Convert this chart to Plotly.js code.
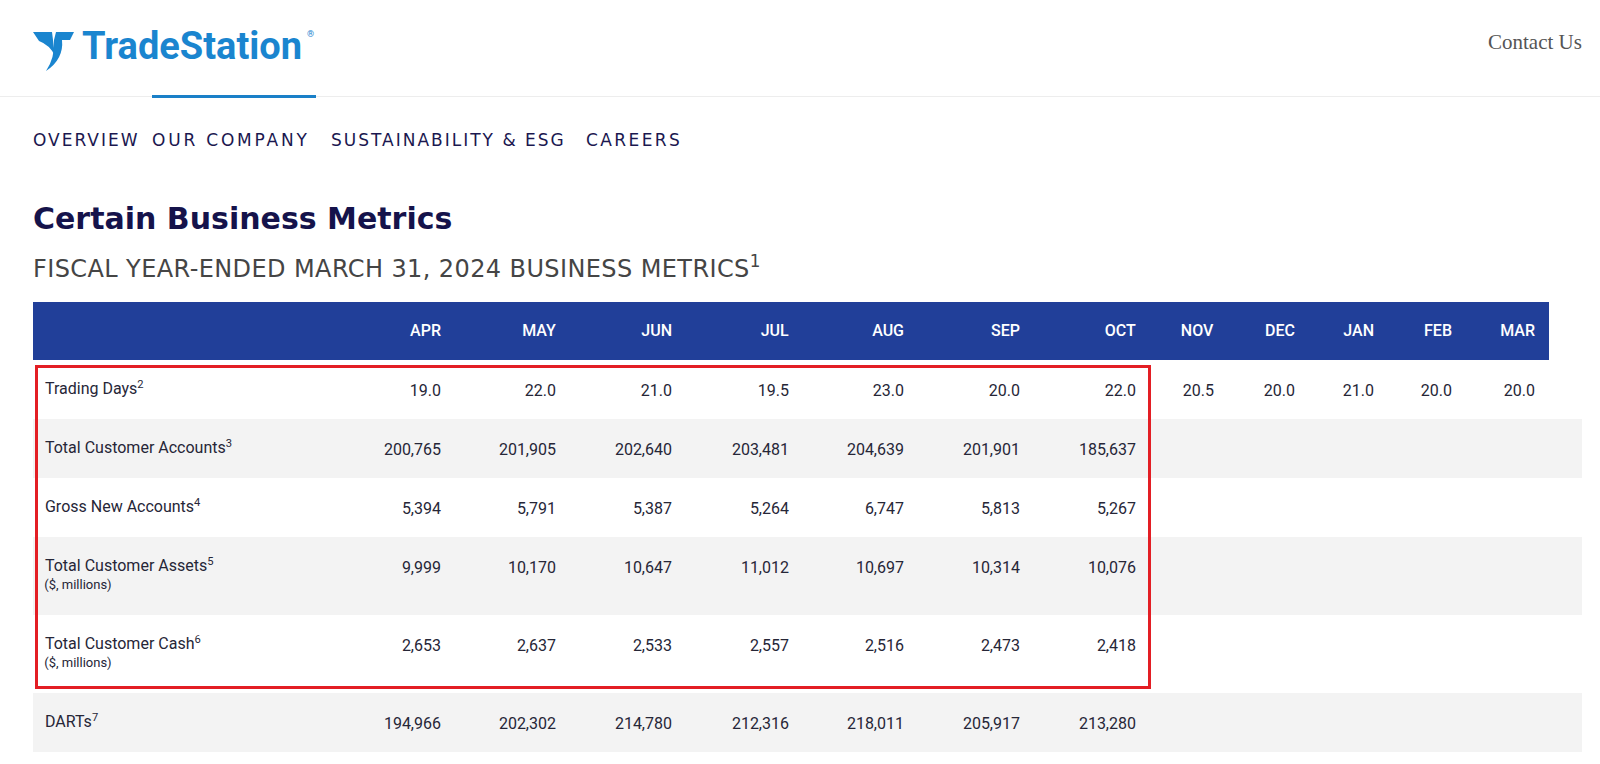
<!DOCTYPE html>
<html><head><meta charset="utf-8">
<script src="https://cdn.plot.ly/plotly-3.0.1.min.js"></script>
<style>html,body{margin:0;padding:0;background:#fff;}#chart{width:1600px;height:764px;}</style>
</head><body><div id="chart"></div>
<script>
// ---- data ----
const months = ['APR','MAY','JUN','JUL','AUG','SEP','OCT','NOV','DEC','JAN','FEB','MAR'];
const rowLabels = [
  'Trading Days<sup>2</sup>',
  'Total Customer Accounts<sup>3</sup>',
  'Gross New Accounts<sup>4</sup>',
  'Total Customer Assets<sup>5</sup>',
  'Total Customer Cash<sup>6</sup>',
  'DARTs<sup>7</sup>'
];
const rowSubLabels = ['', '', '', '($, millions)', '($, millions)', ''];
const tradingDays = [19.0, 22.0, 21.0, 19.5, 23.0, 20.0, 22.0, 20.5, 20.0, 21.0, 20.0, 20.0];
const totalCustomerAccounts = [200765, 201905, 202640, 203481, 204639, 201901, 185637];
const grossNewAccounts = [5394, 5791, 5387, 5264, 6747, 5813, 5267];
const totalCustomerAssets = [9999, 10170, 10647, 11012, 10697, 10314, 10076];
const totalCustomerCash = [2653, 2637, 2533, 2557, 2516, 2473, 2418];
const darts = [194966, 202302, 214780, 212316, 218011, 205917, 213280];

// ---- build table ----
const W = 1600, H = 764;
const px = x => x / W, py = y => 1 - y / H;
// the table places text at the top of each cell; a tiny base font gives fine line steps
// (1.3 * 2.692px = 3.5px) so that leading lines push the text down to mid-cell.
const BASE = 2.692;
const br = n => '<br>'.repeat(n);
const big = (s, size) => '<span style="font-size:' + (size || 16) + 'px">' + s + '</span>';
const anchor = '<span style="color:rgba(0,0,0,0)">.</span>';   // invisible top anchor
const numTxt = s => br(8) + big(s);
const headTxt = s => anchor + br(7) + big(s);
const fmtInt = v => (v === undefined ? '' : numTxt(v.toLocaleString('en-US')));
const fmtDays = v => (v === undefined ? '' : numTxt(v.toFixed(1)));
const series = [
  [tradingDays, fmtDays],
  [totalCustomerAccounts, fmtInt],
  [grossNewAccounts, fmtInt],
  [totalCustomerAssets, fmtInt],
  [totalCustomerCash, fmtInt],
  [darts, fmtInt]
];
const labelCol = rowLabels.map((l, i) => anchor + br(7) + big('&nbsp;' + l) + (rowSubLabels[i]
  ? br(5) + big('&nbsp;' + rowSubLabels[i], 13) + br(4) + big('&nbsp;') : ''));
const monthCols = months.map((m, j) => series.map(([arr, f]) => f(arr[j])));
const blankCol = series.map(() => '');
const values = [labelCol, ...monthCols, blankCol, blankCol];
const headerVals = ['', ...months.map(headTxt), '', ''];
const nCols = headerVals.length;
const rowFill = series.map((s, i) => (i % 2 === 0 ? '#ffffff' : '#f3f3f3'));
const headerFill = headerVals.map((h, j) => (j === nCols - 1 ? '#ffffff' : '#213f99'));

const table = {
  type: 'table',
  domain: {x: [px(33), px(1582)], y: [0, py(302)]},
  columnwidth: [301, 115, 115, 116, 117, 115, 116, 116, 78, 81, 79, 78, 83, 6, 33],
  header: {
    values: headerVals,
    align: 'right',
    height: 58,
    fill: {color: headerFill},
    line: {width: 0, color: 'rgba(0,0,0,0)'},
    font: {family: 'Roboto, sans-serif', size: BASE, color: '#ffffff', weight: 500}
  },
  cells: {
    values: values,
    align: ['left'].concat(headerVals.slice(1).map(() => 'right')),
    height: 59,
    fill: {color: values.map(() => rowFill)},
    line: {width: 0, color: 'rgba(0,0,0,0)'},
    font: {family: 'Roboto, sans-serif', size: BASE, color: '#262637'}
  }
};

// ---- page decorations ----
function pathOf(cmds) {
  return cmds.map(c => c[0] + ' ' + c.slice(1).map((v, k) => (k % 2 === 0 ? px(v) : py(v)).toFixed(5)).join(' ')).join(' ') + ' Z';
}
const logoBlue = '#1a85cf';
const shapes = [
  {type: 'line', xref: 'paper', yref: 'paper', x0: 0, x1: 1, y0: py(96.5), y1: py(96.5), line: {color: '#ededed', width: 1}},
  {type: 'line', xref: 'paper', yref: 'paper', x0: px(152), x1: px(316), y0: py(96.5), y1: py(96.5), line: {color: '#1a80c8', width: 3}},
  {type: 'path', xref: 'paper', yref: 'paper', fillcolor: logoBlue, line: {width: 0},
   path: pathOf([['M', 33, 32], ['L', 52, 32], ['L', 55, 56], ['Q', 50, 45, 39, 41]])},
  {type: 'path', xref: 'paper', yref: 'paper', fillcolor: logoBlue, line: {width: 0},
   path: pathOf([['M', 56, 32], ['L', 74, 32], ['L', 70, 40], ['L', 62, 40], ['Q', 64, 59, 46, 71], ['Q', 55, 58, 54, 40]])}
];

function ann(text, x, y, opts) {
  return Object.assign({text: text, x: px(x), y: py(y), xref: 'paper', yref: 'paper', showarrow: false,
    xanchor: 'left', yanchor: 'middle', borderpad: 0, borderwidth: 0}, opts);
}
const navFont = {family: 'DejaVu Sans, sans-serif', size: 17, color: '#1b1850'};
const nav = (s, ls) => '<span style="letter-spacing:' + ls + 'px">' + s + '</span>';
const annotations = [
  ann('TradeStation', 82, 46, {font: {family: 'Roboto, sans-serif', size: 38, color: logoBlue, weight: 700}}),
  ann('®', 307, 34, {font: {family: 'Roboto, sans-serif', size: 9, color: logoBlue}}),
  ann('Contact Us', 1582, 42, {xanchor: 'right', font: {family: 'Liberation Serif, serif', size: 21, color: '#555555'}}),
  ann(nav('OVERVIEW', 2), 33, 140, {font: navFont}),
  ann(nav('OUR COMPANY', 2.8), 152, 140, {font: navFont}),
  ann(nav('SUSTAINABILITY &amp; ESG', 2), 331, 140, {font: navFont}),
  ann(nav('CAREERS', 2.4), 586, 140, {font: navFont}),
  ann('Certain Business Metrics', 33, 218, {font: {family: 'DejaVu Sans, sans-serif', size: 30, color: '#15134b', weight: 700}}),
  ann('<span style="letter-spacing:0.4px">FISCAL YEAR-ENDED MARCH 31, 2024 BUSINESS METRICS</span><sup>1</sup>', 33, 267,
      {font: {family: 'DejaVu Sans, sans-serif', size: 24, color: '#454545'}}),
  // red highlight frame (annotation so it sits above the table layer)
  {text: ' ', xref: 'paper', yref: 'paper', x: px(35), y: py(365), xanchor: 'left', yanchor: 'top',
   showarrow: false, width: 1110, height: 318, borderpad: 0, borderwidth: 3, bordercolor: '#e31e24', bgcolor: 'rgba(0,0,0,0)'}
];

const layout = {
  width: W, height: H,
  margin: {l: 0, r: 0, t: 0, b: 0},
  paper_bgcolor: '#ffffff',
  showlegend: false,
  shapes: shapes,
  annotations: annotations
};
Plotly.newPlot('chart', [table], layout, {displayModeBar: false, staticPlot: true});
</script>
</body></html>
